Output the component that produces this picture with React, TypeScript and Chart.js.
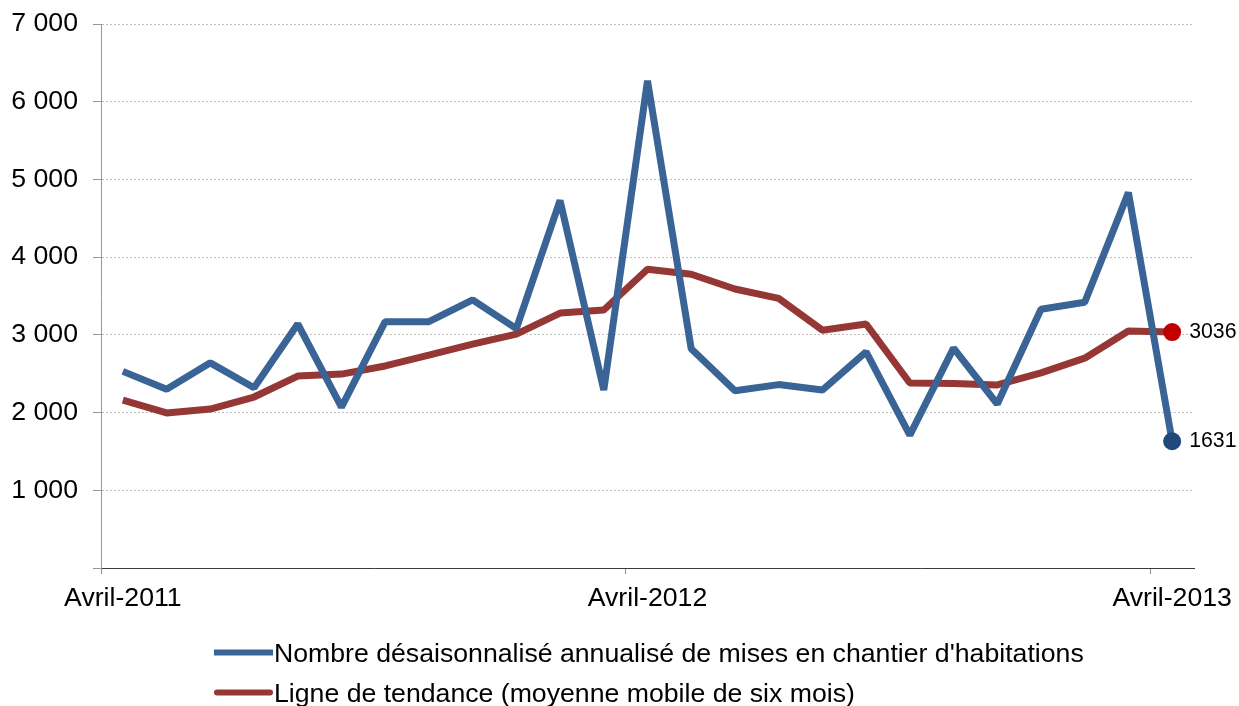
import React, { useEffect, useRef } from 'react';
import { Chart, registerables } from 'chart.js';

Chart.register(...registerables);

const months = [
  'Avril-2011', 'Mai-2011', 'Juin-2011', 'Juillet-2011', 'Août-2011', 'Septembre-2011',
  'Octobre-2011', 'Novembre-2011', 'Décembre-2011', 'Janvier-2012', 'Février-2012', 'Mars-2012',
  'Avril-2012', 'Mai-2012', 'Juin-2012', 'Juillet-2012', 'Août-2012', 'Septembre-2012',
  'Octobre-2012', 'Novembre-2012', 'Décembre-2012', 'Janvier-2013', 'Février-2013', 'Mars-2013',
  'Avril-2013',
];

const housingStarts = [
  2530, 2300, 2640, 2320, 3140, 2070, 3170, 3170, 3450, 3080, 4730, 2290,
  6270, 2820, 2280, 2360, 2290, 2780, 1710, 2830, 2110, 3330, 3420, 4830,
  1631,
];

const trendLine = [
  2160, 1995, 2045, 2200, 2470, 2495, 2600, 2740, 2880, 3010, 3280, 3320,
  3845, 3780, 3590, 3470, 3060, 3140, 2380, 2375, 2355, 2510, 2700, 3050,
  3036,
];

const seriesLabels = [
  "Nombre désaisonnalisé annualisé de mises en chantier d'habitations",
  'Ligne de tendance (moyenne mobile de six mois)',
];

const yTickValues = [0, 1000, 2000, 3000, 4000, 5000, 6000, 7000];

const FONT = "'Liberation Sans', Arial, sans-serif";
const BLUE = '#3A6495';
const RED = '#953735';
const BLUE_DOT = '#1F497D';
const RED_DOT = '#C00000';

const formatThousands = (v: number) =>
  v === 0 ? '' : String(v).replace(/\B(?=(\d{3})+(?!\d))/g, ' ');

const endLabelsPlugin = {
  id: 'endLabels',
  afterDatasetsDraw(chart: any) {
    const { ctx } = chart;
    ctx.save();
    ctx.font = `21.3px ${FONT}`;
    ctx.fillStyle = '#000';
    ctx.textAlign = 'left';
    ctx.textBaseline = 'middle';
    chart.data.datasets.forEach((ds: any, i: number) => {
      const meta = chart.getDatasetMeta(i);
      const last = meta.data[meta.data.length - 1];
      const value = ds.data[ds.data.length - 1];
      ctx.fillText(String(value), last.x + 17, last.y);
    });
    ctx.restore();
  },
};

const legendPlugin = {
  id: 'customLegend',
  afterDraw(chart: any) {
    const { ctx } = chart;
    const baselines = [662, 702];
    ctx.save();
    chart.data.datasets.forEach((ds: any, i: number) => {
      const by = baselines[i];
      ctx.strokeStyle = ds.borderColor;
      ctx.lineWidth = 6;
      ctx.lineCap = i === 1 ? 'round' : 'butt';
      ctx.beginPath();
      ctx.moveTo(i === 1 ? 217 : 214, by - 9.5);
      ctx.lineTo(i === 1 ? 270 : 273, by - 9.5);
      ctx.stroke();
      ctx.font = `26.67px ${FONT}`;
      ctx.fillStyle = '#000';
      ctx.textAlign = 'left';
      ctx.textBaseline = 'alphabetic';
      ctx.fillText(ds.label, 274, by);
    });
    ctx.restore();
  },
};

export default function App() {
  const canvasRef = useRef<HTMLCanvasElement | null>(null);

  useEffect(() => {
    if (!canvasRef.current) return;
    Chart.defaults.font.family = FONT;
    const lastIdx = months.length - 1;
    const chart = new Chart(canvasRef.current, {
      type: 'line',
      data: {
        labels: months,
        datasets: [
          {
            label: seriesLabels[0],
            data: housingStarts,
            borderColor: BLUE,
            backgroundColor: BLUE_DOT,
            borderWidth: 7,
            borderJoinStyle: 'bevel',
            tension: 0,
            fill: false,
            pointRadius: (c: any) => (c.dataIndex === lastIdx ? 9 : 0),
            pointHoverRadius: 0,
            pointBackgroundColor: BLUE_DOT,
            pointBorderWidth: 0,
          },
          {
            label: seriesLabels[1],
            data: trendLine,
            borderColor: RED,
            backgroundColor: RED_DOT,
            borderWidth: 7,
            borderJoinStyle: 'bevel',
            tension: 0,
            fill: false,
            pointRadius: (c: any) => (c.dataIndex === lastIdx ? 9 : 0),
            pointHoverRadius: 0,
            pointBackgroundColor: RED_DOT,
            pointBorderWidth: 0,
          },
        ],
      },
      options: {
        animation: false,
        responsive: false,
        maintainAspectRatio: false,
        layout: { autoPadding: false, padding: { top: 24, right: 45, bottom: 0, left: 0 } },
        plugins: {
          legend: { display: false },
          tooltip: { enabled: false },
        },
        scales: {
          x: {
            type: 'category',
            offset: true,
            grid: {
              offset: true,
              drawOnChartArea: false,
              drawTicks: true,
              tickLength: 6,
              tickColor: (c: any) => (c.index % 12 === 0 ? '#8c8c8c' : 'rgba(0,0,0,0)'),
              color: 'rgba(0,0,0,0)',
            },
            border: { display: true, color: '#3a3a3a', width: 1 },
            ticks: {
              autoSkip: false,
              maxRotation: 0,
              minRotation: 0,
              padding: 9,
              color: '#000',
              font: { size: 26.67, family: FONT },
              callback: (_v: any, i: number) => (months[i].startsWith('Avril') ? months[i] : ''),
            },
            afterFit: (s: any) => {
              s.height = 138;
              s.paddingLeft = 0;
              s.paddingRight = 0;
            },
          },
          y: {
            type: 'linear',
            min: 0,
            max: 7000,
            afterBuildTicks: (s: any) => {
              s.ticks = yTickValues.map((v) => ({ value: v }));
            },
            grid: {
              color: (c: any) => (c.tick && c.tick.value === 0 ? 'rgba(0,0,0,0)' : '#bdbdbd'),
              lineWidth: 1,
              drawTicks: true,
              tickLength: 8,
              tickColor: '#999',
              tickWidth: 1,
            },
            border: { display: true, color: '#999', width: 1, dash: [2, 2] },
            ticks: {
              padding: 15,
              color: '#000',
              font: { size: 26.67, family: FONT },
              callback: (v: any) => formatThousands(Number(v)),
            },
            afterFit: (s: any) => {
              s.width = 101;
              s.paddingTop = 0;
              s.paddingBottom = 0;
            },
          },
        },
      },
      plugins: [endLabelsPlugin, legendPlugin],
    } as any);
    return () => chart.destroy();
  }, []);

  return (
    <div style={{ position: 'fixed', left: 0, top: 0, width: 1239, height: 706, overflow: 'hidden' }}>
      <canvas ref={canvasRef} width={1239} height={706} style={{ display: 'block', width: 1239, height: 706 }} />
    </div>
  );
}
